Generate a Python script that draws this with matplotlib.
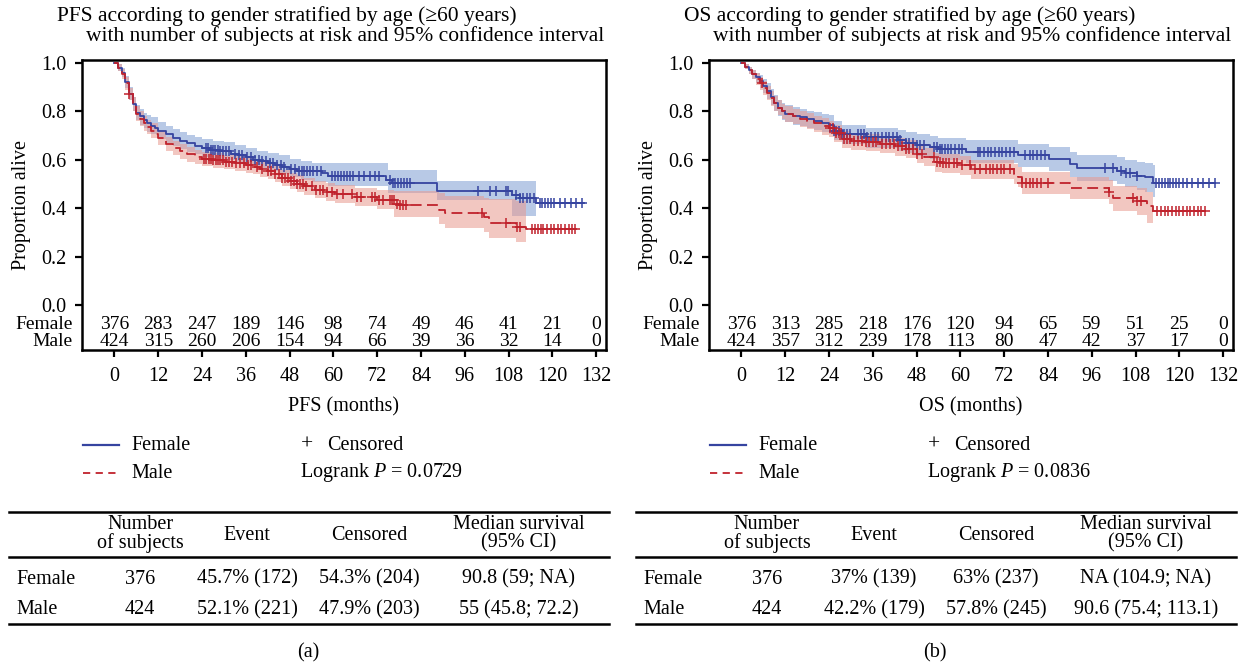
import numpy as np
import matplotlib.pyplot as plt
from matplotlib.lines import Line2D

plt.rcParams['font.family'] = ['Liberation Serif', 'DejaVu Serif']
plt.rcParams['mathtext.fontset'] = 'custom'
plt.rcParams['mathtext.rm'] = 'Liberation Serif'
plt.rcParams['mathtext.it'] = 'Liberation Serif:italic'
FS = 14.5
FS_TITLE = 15.5
FS_RISK = 14

# -----------------------------
# Kaplan-Meier data
# -----------------------------
# PFS, female
pfs_f_t = [0, 1, 2, 3, 4, 5, 6, 7, 8, 9, 10, 11, 12, 14, 16, 18, 20, 22, 24, 26, 29, 32, 34, 36,
           38, 40, 42, 44, 46, 48, 50, 57, 58.5, 74.5, 76, 88.5, 109, 111, 115.4]
pfs_f_s = [1.0, 0.98, 0.96, 0.92, 0.87, 0.83, 0.795, 0.78, 0.765, 0.75, 0.74, 0.73, 0.72, 0.705,
           0.69, 0.678, 0.668, 0.658, 0.648, 0.64, 0.635, 0.625, 0.618, 0.61, 0.6, 0.595, 0.588,
           0.58, 0.572, 0.562, 0.553, 0.545, 0.532, 0.515, 0.502, 0.47, 0.456, 0.44, 0.42]
pfs_f_end = 128.8
pfs_f_ci_t = [0, 1, 2, 3, 4, 5, 6, 7, 8, 9, 10, 12, 14, 16, 18, 20, 22, 24, 27, 30, 33, 36, 39,
              42, 45, 48, 51, 54, 58.5, 75, 88.5, 109]
pfs_f_lo = [1.0, 0.965, 0.94, 0.895, 0.845, 0.8, 0.765, 0.745, 0.73, 0.715, 0.705, 0.685, 0.67,
            0.655, 0.643, 0.632, 0.622, 0.612, 0.605, 0.598, 0.588, 0.575, 0.563, 0.552, 0.54,
            0.527, 0.515, 0.508, 0.49, 0.462, 0.432, 0.368]
pfs_f_hi = [1.0, 0.995, 0.98, 0.945, 0.9, 0.86, 0.825, 0.81, 0.795, 0.785, 0.775, 0.755, 0.74,
            0.725, 0.713, 0.703, 0.695, 0.686, 0.678, 0.672, 0.662, 0.65, 0.638, 0.628, 0.618,
            0.605, 0.595, 0.588, 0.585, 0.559, 0.514, 0.514]
pfs_f_ci_end = 115.6
pfs_f_cens = [25.0, 25.7, 26.4, 27.0, 27.6, 28.3, 29.0, 29.8, 30.6, 31.4, 33.0, 34.2, 35.0, 36.2,
              37.5, 38.5, 39.5, 40.5, 41.5, 42.5, 43.5, 44.5, 45.5, 46.5, 48.5, 49.5, 50.5, 51.3,
              52.0, 52.8, 53.6, 54.5, 55.5, 56.5, 59.5, 60.5, 61.2, 62.0, 62.8, 63.6, 64.5, 65.5,
              67.0, 68.5, 70.0, 71.5, 72.5, 75.5, 76.2, 77.0, 77.8, 78.5, 79.3, 80.2, 81.0, 99.6,
              102.9, 104.5, 107.2, 107.8, 110.0, 111.2, 112.0, 113.0, 114.0, 115.0, 116.5, 117.2,
              118.0, 118.7, 119.5, 120.5, 122.0, 123.5, 125.0, 126.5, 128.0]

# PFS, male
pfs_m_t = [0, 1, 2, 3, 4, 5, 6, 7, 8, 9, 10, 11, 12, 14, 16, 18, 20, 22, 24, 27, 30, 33, 36, 38,
           40, 42, 44, 46, 48, 50, 52, 55, 58, 60.5, 66, 72, 76.7, 78, 89, 90.6, 101.4, 102.5,
           110, 112.7]
pfs_m_s = [1.0, 0.98, 0.955, 0.915, 0.87, 0.83, 0.79, 0.77, 0.75, 0.735, 0.72, 0.705, 0.69,
           0.665, 0.648, 0.635, 0.622, 0.612, 0.603, 0.597, 0.59, 0.585, 0.578, 0.572, 0.562,
           0.552, 0.54, 0.525, 0.512, 0.5, 0.49, 0.476, 0.466, 0.459, 0.446, 0.434, 0.417, 0.411,
           0.393, 0.379, 0.363, 0.338, 0.324, 0.313]
pfs_m_end = 126.1
pfs_m_ci_t = [0, 1, 2, 3, 4, 5, 6, 7, 8, 9, 10, 12, 14, 16, 18, 20, 22, 24, 27, 30, 33, 36, 38,
              40, 42, 44, 46, 48, 50, 52, 55, 58, 60.5, 66, 72, 76.7, 89, 90.6, 101.4, 102.5, 110]
pfs_m_lo = [1.0, 0.965, 0.935, 0.89, 0.845, 0.8, 0.76, 0.74, 0.72, 0.705, 0.69, 0.66, 0.635,
            0.618, 0.605, 0.592, 0.582, 0.573, 0.567, 0.56, 0.555, 0.547, 0.54, 0.53, 0.52,
            0.507, 0.492, 0.478, 0.465, 0.455, 0.44, 0.43, 0.422, 0.408, 0.395, 0.362, 0.335,
            0.32, 0.3, 0.275, 0.262]
pfs_m_hi = [1.0, 0.995, 0.975, 0.94, 0.895, 0.86, 0.82, 0.8, 0.78, 0.765, 0.75, 0.72, 0.695,
            0.678, 0.665, 0.652, 0.642, 0.633, 0.627, 0.62, 0.615, 0.609, 0.603, 0.594, 0.584,
            0.573, 0.558, 0.546, 0.535, 0.525, 0.512, 0.502, 0.496, 0.484, 0.473, 0.47, 0.462,
            0.452, 0.44, 0.437, 0.43]
pfs_m_ci_end = 112.8
pfs_m_cens = [4.0, 24.5, 25.2, 25.9, 26.5, 27.1, 27.7, 28.3, 29.0, 29.7, 30.5, 31.3, 32.2, 33.2,
              34.5, 35.5, 36.5, 37.5, 39.0, 40.5, 42.0, 43.0, 44.0, 45.0, 46.0, 46.8, 47.6, 48.4,
              49.2, 50.0, 50.8, 51.6, 52.5, 54.0, 55.2, 56.2, 57.2, 58.2, 59.5, 61.0, 62.5, 65.0,
              66.5, 67.5, 70.5, 71.5, 72.5, 73.5, 75.5, 76.0, 76.5, 77.3, 78.2, 79.0, 79.8, 100.7,
              107.2, 110.3, 111.2, 114.5, 115.3, 116.0, 116.8, 117.5, 118.5, 119.5, 120.5, 121.5,
              122.5, 123.5, 124.5, 125.5, 126.1]

# OS, female
os_f_t = [0, 1, 2, 3, 4, 5, 6, 7, 8, 9, 10, 11, 12, 14, 16, 18, 20, 22, 24, 25.3, 27.5, 34, 43,
          45, 48, 51.6, 53.8, 61.4, 75.7, 84.4, 89.9, 92, 103, 105, 108.5, 110.7, 112.9]
os_f_s = [1.0, 0.985, 0.97, 0.955, 0.94, 0.925, 0.905, 0.885, 0.86, 0.835, 0.815, 0.8, 0.79,
          0.782, 0.775, 0.768, 0.76, 0.752, 0.745, 0.72, 0.705, 0.692, 0.68, 0.671, 0.662, 0.651,
          0.644, 0.634, 0.619, 0.603, 0.582, 0.566, 0.555, 0.544, 0.534, 0.527, 0.505]
os_f_end = 129.8
os_f_ci_t = [0, 1, 2, 3, 4, 5, 6, 7, 8, 9, 10, 11, 12, 14, 16, 18, 20, 22, 24, 25.3, 27.5, 34,
             43, 45, 48, 51.6, 53.8, 61.4, 75.7, 84.4, 89.9, 92, 103, 105, 108.5, 110.7, 112.9]
os_f_lo = [1.0, 0.975, 0.955, 0.935, 0.915, 0.895, 0.875, 0.85, 0.825, 0.8, 0.78, 0.765, 0.755,
           0.745, 0.738, 0.73, 0.722, 0.713, 0.705, 0.68, 0.664, 0.65, 0.635, 0.626, 0.616,
           0.604, 0.597, 0.586, 0.57, 0.553, 0.53, 0.513, 0.5, 0.487, 0.475, 0.465, 0.445]
os_f_hi = [1.0, 0.995, 0.985, 0.972, 0.96, 0.948, 0.932, 0.915, 0.892, 0.868, 0.848, 0.834,
           0.825, 0.818, 0.81, 0.803, 0.797, 0.79, 0.783, 0.76, 0.745, 0.733, 0.722, 0.714,
           0.706, 0.696, 0.69, 0.68, 0.666, 0.652, 0.632, 0.618, 0.61, 0.6, 0.592, 0.587, 0.58]
os_f_ci_end = 113.3
os_f_cens = [25.3, 26.0, 26.8, 27.5, 28.2, 29.0, 29.7, 31.9, 32.8, 33.6, 34.5, 35.5, 36.5, 37.5,
             38.5, 39.5, 40.5, 41.5, 42.5, 43.5, 45.0, 46.0, 47.0, 48.0, 49.0, 50.0, 52.7, 53.5,
             54.3, 55.0, 55.8, 56.6, 57.5, 58.5, 59.5, 60.3, 64.7, 65.5, 66.5, 67.5, 68.5, 69.5,
             70.5, 71.5, 72.5, 73.5, 74.6, 77.8, 79.0, 80.0, 81.0, 82.2, 83.3, 99.7, 101.9, 104.0,
             105.5, 106.5, 108.5, 113.5, 114.5, 115.3, 116.0, 116.8, 117.5, 118.3, 119.0, 120.0,
             121.0, 122.0, 123.5, 125.0, 126.5, 128.0, 129.8]

# OS, male
os_m_t = [0, 1, 2, 3, 4, 5, 6, 7, 8, 9, 10, 11, 12, 14, 16, 18, 20, 22, 24, 25.3, 27.5, 30, 34,
          38, 42, 45, 48, 50, 53, 55, 60, 63, 74.6, 75.7, 76.8, 90, 100.8, 101.9, 108.5, 111,
          112.9]
os_m_s = [1.0, 0.985, 0.97, 0.955, 0.935, 0.915, 0.895, 0.875, 0.855, 0.835, 0.815, 0.8, 0.79,
          0.78, 0.77, 0.76, 0.75, 0.74, 0.73, 0.71, 0.685, 0.678, 0.672, 0.665, 0.655, 0.645,
          0.625, 0.612, 0.59, 0.585, 0.578, 0.562, 0.541, 0.527, 0.503, 0.483, 0.466, 0.44, 0.43,
          0.41, 0.39]
os_m_end = 127.1
os_m_ci_t = [0, 1, 2, 3, 4, 5, 6, 7, 8, 9, 10, 11, 12, 14, 16, 18, 20, 22, 24, 25.3, 27.5, 30,
             34, 38, 42, 45, 48, 50, 53, 55, 60, 63, 74.6, 75.7, 76.8, 90, 100.8, 101.9, 108.5, 111]
os_m_lo = [1.0, 0.975, 0.955, 0.933, 0.91, 0.888, 0.866, 0.845, 0.823, 0.803, 0.783, 0.768,
           0.757, 0.746, 0.735, 0.725, 0.715, 0.704, 0.694, 0.673, 0.648, 0.641, 0.635, 0.628,
           0.617, 0.606, 0.586, 0.573, 0.55, 0.545, 0.538, 0.522, 0.5, 0.486, 0.46, 0.438, 0.418,
           0.39, 0.372, 0.34]
os_m_hi = [1.0, 0.995, 0.985, 0.972, 0.958, 0.942, 0.924, 0.905, 0.885, 0.865, 0.845, 0.83,
           0.82, 0.81, 0.8, 0.792, 0.782, 0.772, 0.762, 0.743, 0.718, 0.712, 0.706, 0.699, 0.69,
           0.68, 0.661, 0.648, 0.628, 0.623, 0.616, 0.6, 0.582, 0.57, 0.548, 0.53, 0.515, 0.49,
           0.482, 0.465]
os_m_ci_end = 112.9
os_m_cens = [5.5, 24.2, 25.0, 25.8, 26.6, 27.4, 28.2, 29.0, 29.8, 30.8, 31.9, 33.0, 34.0, 35.0,
             36.0, 37.0, 38.5, 39.5, 40.6, 41.7, 42.8, 44.0, 45.0, 46.0, 47.0, 48.2, 49.4, 52.7,
             53.5, 54.3, 55.2, 56.0, 57.0, 58.2, 59.2, 60.3, 62.5, 64.0, 65.5, 67.0, 68.0, 69.0,
             70.0, 71.0, 72.0, 73.5, 76.8, 78.0, 79.0, 80.0, 81.0, 82.2, 83.9, 100.8, 107.4, 108.5,
             109.6, 114.0, 115.0, 116.0, 117.0, 118.0, 119.0, 120.0, 121.0, 122.0, 123.0, 124.0,
             125.0, 126.0, 127.1]

# Number at risk
risk_times = [0, 12, 24, 36, 48, 60, 72, 84, 96, 108, 120, 132]
pfs_risk_f = [376, 283, 247, 189, 146, 98, 74, 49, 46, 41, 21, 0]
pfs_risk_m = [424, 315, 260, 206, 154, 94, 66, 39, 36, 32, 14, 0]
os_risk_f = [376, 313, 285, 218, 176, 120, 94, 65, 59, 51, 25, 0]
os_risk_m = [424, 357, 312, 239, 178, 113, 80, 47, 42, 37, 17, 0]

# Summary tables
groups = ['Female', 'Male']
n_subjects = ['376', '424']
pfs_event = ['45.7% (172)', '52.1% (221)']
pfs_censored = ['54.3% (204)', '47.9% (203)']
pfs_median = ['90.8 (59; NA)', '55 (45.8; 72.2)']
os_event = ['37% (139)', '42.2% (179)']
os_censored = ['63% (237)', '57.8% (245)']
os_median = ['NA (104.9; NA)', '90.6 (75.4; 113.1)']

BLUE = '#3644a0'
RED = '#c0222c'
BLUE_BAND = '#b8c9e6'
RED_BAND = '#e8998f'

W, H = 1244, 667
fig = plt.figure(figsize=(W / 100, H / 100), dpi=100)


def fx(px):
    return px / W


def fy(py):
    return 1 - py / H


def km(ax, t, s, t_end, ci_t, lo, hi, ci_end, cens, color, band, ls, band_alpha):
    ct = np.append(ci_t, ci_end)
    ax.fill_between(ct, np.append(lo, lo[-1]), np.append(hi, hi[-1]), step='post',
                    color=band, alpha=band_alpha, lw=0, zorder=1)
    tt = np.append(t, t_end)
    ss = np.append(s, s[-1])
    ax.step(tt, ss, where='post', color=color, lw=1.3, ls=ls, zorder=3)
    idx = np.searchsorted(t, cens, side='right') - 1
    ax.plot(cens, np.array(s)[idx], ls='none', marker='+', ms=7, mew=1.1, color=color, zorder=4)


def panel(x0, name, f_data, m_data, risk_f, risk_m, p_text, event, cens, median, tag):
    ax = fig.add_axes([fx(x0), fy(350), fx(524), (350 - 60) / H])
    km(ax, *f_data, BLUE, BLUE_BAND, '-', 1.0)
    km(ax, *m_data, RED, RED_BAND, (0, (6, 3)), 0.55)
    ax.set_xlim(-8.9, 134.7)
    ax.set_ylim(-0.186, 1.012)
    ax.set_xticks(risk_times)
    ax.set_yticks([0, 0.2, 0.4, 0.6, 0.8, 1.0])
    ax.set_yticklabels(['0.0', '0.2', '0.4', '0.6', '0.8', '1.0'])
    ax.tick_params(axis='both', direction='out', length=5, width=1.6, labelsize=FS)
    ax.tick_params(axis='x', pad=7)
    ax.tick_params(axis='y', pad=6)
    for sp in ax.spines.values():
        sp.set_linewidth(1.8)
    for tm, a, b in zip(risk_times, risk_f, risk_m):
        ax.text(tm, -0.08, str(a), ha='center', va='center', fontsize=FS_RISK)
        ax.text(tm, -0.152, str(b), ha='center', va='center', fontsize=FS_RISK)
    trans = ax.get_yaxis_transform()
    ax.text(-0.018, -0.08, 'Female', transform=trans, ha='right', va='center', fontsize=FS_RISK)
    ax.text(-0.018, -0.152, 'Male', transform=trans, ha='right', va='center', fontsize=FS_RISK)
    ax.set_xlabel(name + ' (months)', fontsize=FS)
    ax.xaxis.set_label_coords(0.5, -0.197)
    ax.xaxis.label.set_va('center')
    ax.set_ylabel('Proportion alive', fontsize=FS)
    ax.yaxis.set_label_coords(-0.115, 0.5)
    ax.yaxis.label.set_va('center')

    # titles
    fig.text(fx(x0 - 25), fy(16), name + ' according to gender stratified by age (\u226560 years)',
             fontsize=FS_TITLE, va='center', ha='left')
    fig.text(fx(x0 + 4), fy(36), 'with number of subjects at risk and 95% confidence interval',
             fontsize=FS_TITLE, va='center', ha='left')

    # legend
    fig.add_artist(Line2D([fx(x0 + 1), fx(x0 + 37)], [fy(445)] * 2, color=BLUE, lw=1.6))
    fig.add_artist(Line2D([fx(x0 + 1), fx(x0 + 37)], [fy(473)] * 2, color=RED, lw=1.3,
                          ls=(0, (4, 3))))
    fig.text(fx(x0 + 49), fy(445), 'Female', fontsize=FS, va='center')
    fig.text(fx(x0 + 49), fy(473), 'Male', fontsize=FS, va='center')
    fig.text(fx(x0 + 219), fy(445), '+', fontsize=FS + 1, va='center')
    fig.text(fx(x0 + 245), fy(445), 'Censored', fontsize=FS, va='center')
    fig.text(fx(x0 + 218), fy(473), 'Logrank $P$ = ' + p_text, fontsize=FS, va='center')

    # summary table
    left = x0 - 73
    right = x0 + 527
    for yy in (512, 557, 624):
        fig.add_artist(Line2D([fx(left), fx(right)], [fy(yy)] * 2, color='black', lw=1.8))
    cols = [x0 + 58, x0 + 165, x0 + 287, x0 + 437]
    fig.text(fx(cols[0]), fy(534), 'Number\nof subjects', fontsize=FS, ha='center', va='center',
             linespacing=0.95)
    fig.text(fx(cols[1]), fy(535), 'Event', fontsize=FS, ha='center', va='center')
    fig.text(fx(cols[2]), fy(535), 'Censored', fontsize=FS, ha='center', va='center')
    fig.text(fx(cols[3]), fy(534), 'Median survival\n(95% CI)', fontsize=FS, ha='center',
             va='center', linespacing=0.95)
    for row_y, g, n, e, c, m in zip((579, 610), groups, n_subjects, event, cens, median):
        fig.text(fx(left + 7), fy(row_y), g, fontsize=FS, va='center')
        fig.text(fx(cols[0]), fy(row_y), n, fontsize=FS, ha='center', va='center')
        fig.text(fx(cols[1]), fy(row_y), e, fontsize=FS, ha='center', va='center')
        fig.text(fx(cols[2]), fy(row_y), c, fontsize=FS, ha='center', va='center')
        fig.text(fx(cols[3]), fy(row_y), m, fontsize=FS, ha='center', va='center')
    fig.text(fx(x0 + 226), fy(653), tag, fontsize=FS, ha='center', va='center')


pfs_f = (pfs_f_t, pfs_f_s, pfs_f_end, pfs_f_ci_t, pfs_f_lo, pfs_f_hi, pfs_f_ci_end, pfs_f_cens)
pfs_m = (pfs_m_t, pfs_m_s, pfs_m_end, pfs_m_ci_t, pfs_m_lo, pfs_m_hi, pfs_m_ci_end, pfs_m_cens)
os_f = (os_f_t, os_f_s, os_f_end, os_f_ci_t, os_f_lo, os_f_hi, os_f_ci_end, os_f_cens)
os_m = (os_m_t, os_m_s, os_m_end, os_m_ci_t, os_m_lo, os_m_hi, os_m_ci_end, os_m_cens)

panel(82, 'PFS', pfs_f, pfs_m, pfs_risk_f, pfs_risk_m, '0.0729',
      pfs_event, pfs_censored, pfs_median, '(a)')
panel(709, 'OS', os_f, os_m, os_risk_f, os_risk_m, '0.0836',
      os_event, os_censored, os_median, '(b)')

fig.savefig('out.png', dpi=100)
